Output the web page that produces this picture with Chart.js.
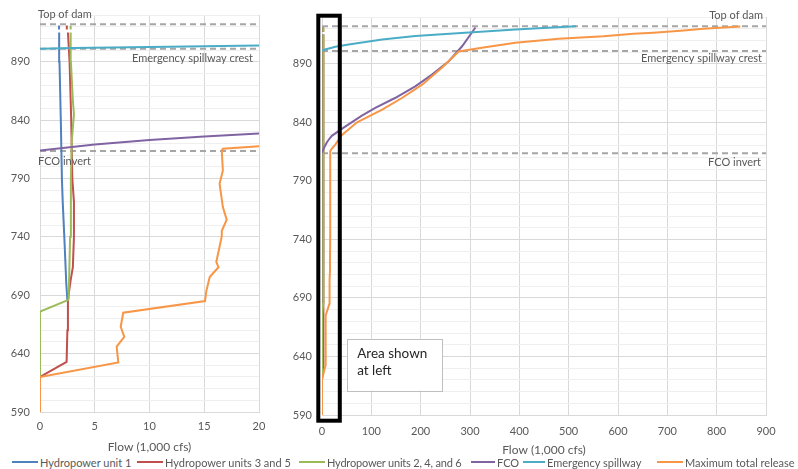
<!DOCTYPE html>
<html>
<head>
<meta charset="utf-8">
<script src="https://cdn.jsdelivr.net/npm/chart.js@4.4.1/dist/chart.umd.min.js"></script>
<style>
html,body{margin:0;padding:0;background:#fff;}
body{width:798px;height:469px;position:relative;overflow:hidden;font-family:Lato,"Open Sans",sans-serif;}
#cL{position:absolute;left:0;top:0;}
#cR{position:absolute;left:270px;top:0;}
.lg{position:absolute;top:455px;height:14px;display:flex;align-items:center;font-size:11px;color:#595959;white-space:nowrap;}
.lg i{display:inline-block;height:2px;margin-right:2px;}
</style>
</head>
<body>
<canvas id="cL" width="268" height="455"></canvas>
<canvas id="cR" width="528" height="458"></canvas>
<div id="legend"></div>
<script>
// ---- Data (flow in 1,000 cfs vs. reservoir elevation) ----
const unit1Flow = [2.5, 2.4, 2.22, 2.07, 2.0, 1.9, 1.78, 1.75, null, 1.74, 1.74];
const unit1Elev = [686, 700, 740, 771, 790, 840, 890, 915, null, 917.5, 921];

const units35Flow = [0, 2.43, 2.5, 2.55, 2.8, 3.0, 3.1, 3.1, 2.95, 2.85, 2.7, 2.55, null, 2.45, 2.45];
const units35Elev = [620, 633, 660, 686, 703, 714, 740, 770, 790, 840, 890, 915, null, 917.5, 921];

const units246Flow = [0, 0, 2.6, 2.65, 2.75, 2.82, 2.9, 3.1, 3.0, 2.82, 2.8, null, 2.8, 2.8];
const units246Elev = [620, 676, 686, 700, 740, 790, 822, 845, 857, 890, 915, null, 917.5, 921];

const fcoFlow = [0, 5, 10, 15, 20, 37, 60, 80, 108, 148, 189, 223, 257, 284, 311];
const fcoElev = [814, 819, 823, 826, 828.5, 833.6, 840, 845.5, 852.3, 860.8, 870.8, 880.8, 892.2, 905, 921];

const spillFlow = [0, 3, 10, 20, 27, 54, 122, 189, 290, 392, 515];
const spillElev = [901, 901.8, 902.6, 903.8, 904.6, 906.6, 910.8, 913.7, 916.6, 919.4, 922];

const maxFlow = [0, 0, 7.15, 7.0, 7.7, 7.37, 7.6, 15.07, 15.2, 15.5, 16.3, 16.1, 16.6, 16.6, 17.05, 16.7, 16.4, 16.7, 16.6, 16.7, 20, 27, 40, 71, 122, 162, 203, 243, 277, 324, 392, 480, 571, 631, 672, 733, 773, 848];
const maxElev = [590, 620, 632.5, 646, 654.4, 663, 675, 685, 694, 705.6, 714, 718.5, 740.4, 745, 754.7, 765.5, 785.5, 796.8, 814, 815.4, 817.5, 821, 829, 840, 850.8, 860.8, 872.2, 886.6, 900.5, 903.7, 908, 911.5, 913.6, 915.7, 916.6, 918.5, 920, 921.8];

// Reference elevations
const topOfDam = 922;
const spillwayCrest = 901;
const fcoInvert = 813.5;

// Ticks
const elevGrid = [590,600,610,620,630,640,650,660,670,680,690,700,710,720,730,740,750,760,770,780,790,800,810,820,830,840,850,860,870,880,890,900,910,920,930];
const elevLabels = [590, 640, 690, 740, 790, 840, 890];
const leftFlowTicks = [0, 5, 10, 15, 20];
const rightFlowTicks = [0, 100, 200, 300, 400, 500, 600, 700, 800, 900];

const seriesNames = ['Hydropower unit 1', 'Hydropower units 3 and 5', 'Hydropower units 2, 4, and 6', 'FCO', 'Emergency spillway', 'Maximum total release'];
const seriesColors = ['#4F81BD', '#C0504D', '#9BBB59', '#8064A2', '#4BACC6', '#F79646'];
const seriesFlows = [unit1Flow, units35Flow, units246Flow, fcoFlow, spillFlow, maxFlow];
const seriesElevs = [unit1Elev, units35Elev, units246Elev, fcoElev, spillElev, maxElev];

const FONT = 'Lato, "Open Sans", sans-serif';
const TXT = '#595959';

function pts(xs, ys) {
  return xs.map((x, i) => (ys[i] === null ? {x: null, y: null} : {x: x, y: ys[i]}));
}

function buildDatasets(xMin, xMax) {
  const ds = seriesNames.map((name, i) => ({
    label: name,
    data: pts(seriesFlows[i], seriesElevs[i]),
    borderColor: seriesColors[i],
    backgroundColor: seriesColors[i],
    borderWidth: 2,
    pointRadius: 0,
    fill: false,
    spanGaps: false,
    order: 10 - i
  }));
  [topOfDam, spillwayCrest, fcoInvert].forEach(v => {
    ds.push({
      label: 'ref',
      data: [{x: xMin, y: v}, {x: xMax, y: v}],
      borderColor: '#A6A6A6',
      borderWidth: 2,
      borderDash: [6, 4],
      pointRadius: 0,
      fill: false,
      order: 20
    });
  });
  return ds;
}

function buildScales(xMin, xMax, xTicks, yWidth, xHeight, xTickPad, titlePadBottom) {
  return {
    x: {
      type: 'linear', min: xMin, max: xMax,
      afterBuildTicks: s => { s.ticks = xTicks.map(v => ({value: v})); },
      afterFit: s => { s.height = xHeight; s.paddingLeft = 0; s.paddingRight = 0; },
      grid: {color: '#D9D9D9', lineWidth: 1, drawTicks: false},
      border: {display: true, color: '#D9D9D9'},
      ticks: {color: TXT, font: {family: FONT, size: 11}, padding: xTickPad, maxRotation: 0, autoSkip: false},
      title: {display: true, text: 'Flow (1,000 cfs)', color: TXT, font: {family: FONT, size: 12}, padding: {top: 0, bottom: titlePadBottom}}
    },
    y: {
      type: 'linear', min: 590, max: 930,
      afterBuildTicks: s => { s.ticks = elevGrid.map(v => ({value: v})); },
      afterFit: s => { s.width = yWidth; s.paddingTop = 0; s.paddingBottom = 0; },
      grid: {
        drawTicks: false,
        color: c => (c.tick && elevLabels.includes(c.tick.value)) ? '#D9D9D9' : '#EFEFEF',
        lineWidth: 1
      },
      border: {display: true, color: '#D9D9D9'},
      ticks: {
        color: TXT, font: {family: FONT, size: 11}, padding: 10, autoSkip: false,
        callback: v => elevLabels.includes(v) ? String(v) : ''
      }
    }
  };
}

const annotPlugin = {
  id: 'annot',
  afterDatasetsDraw(chart, args, opts) {
    const ctx = chart.ctx;
    const ys = chart.scales.y, xs = chart.scales.x, ca = chart.chartArea;
    ctx.save();
    ctx.font = '11px ' + FONT;
    ctx.fillStyle = TXT;
    ctx.textBaseline = 'middle';
    (opts.labels || []).forEach(l => {
      const py = ys.getPixelForValue(l.value) + l.dy;
      if (l.side === 'left') {
        ctx.textAlign = 'left';
        ctx.fillText(l.text, ca.left + l.dx, py);
      } else {
        ctx.textAlign = 'right';
        ctx.fillText(l.text, ca.right - l.dx, py);
      }
    });
    if (opts.zoomBox) {
      const x0 = xs.getPixelForValue(0);
      ctx.strokeStyle = '#000';
      ctx.lineWidth = 4;
      ctx.strokeRect(x0 - 3.7, ca.top - 1.3, 21.5, ca.bottom - ca.top + 7);
      // "Area shown at left" box
      const bx = xs.getPixelForValue(51), bx2 = xs.getPixelForValue(244);
      const by = ys.getPixelForValue(655), by2 = ys.getPixelForValue(611);
      ctx.fillStyle = '#fff';
      ctx.fillRect(bx, by, bx2 - bx, by2 - by);
      ctx.strokeStyle = '#BFBFBF';
      ctx.lineWidth = 1;
      ctx.strokeRect(Math.round(bx) + 0.5, Math.round(by) + 0.5, Math.round(bx2 - bx), Math.round(by2 - by));
      ctx.fillStyle = '#262626';
      ctx.font = '13.5px ' + FONT;
      ctx.textAlign = 'left';
      ctx.fillText('Area shown', bx + 10, by + 15);
      ctx.fillText('at left', bx + 10, by + 32);
    }
    ctx.restore();
  }
};

const common = {
  responsive: false,
  animation: false,
  devicePixelRatio: 1,
  events: [],
  plugins: {legend: {display: false}, tooltip: {enabled: false}}
};

new Chart(document.getElementById('cL'), {
  type: 'line',
  data: {datasets: buildDatasets(0, 20)},
  plugins: [annotPlugin],
  options: Object.assign({}, common, {
    layout: {padding: {top: 15, right: 9, left: 0, bottom: 0}},
    scales: buildScales(0, 20, leftFlowTicks, 40, 43, 8, 1),
    plugins: Object.assign({}, common.plugins, {
      annot: {
        labels: [
          {text: 'Top of dam', value: topOfDam, side: 'left', dx: -2, dy: -10},
          {text: 'Emergency spillway crest', value: spillwayCrest, side: 'right', dx: 6, dy: 10},
          {text: 'FCO invert', value: fcoInvert, side: 'left', dx: -2, dy: 10}
        ]
      }
    })
  })
});

new Chart(document.getElementById('cR'), {
  type: 'line',
  data: {datasets: buildDatasets(0, 900)},
  plugins: [annotPlugin],
  options: Object.assign({}, common, {
    layout: {padding: {top: 17, right: 32, left: 0, bottom: 0}},
    scales: buildScales(0, 900, rightFlowTicks, 52, 43, 10, 1),
    plugins: Object.assign({}, common.plugins, {
      annot: {
        zoomBox: true,
        labels: [
          {text: 'Top of dam', value: topOfDam, side: 'right', dx: 3, dy: -11},
          {text: 'Emergency spillway crest', value: spillwayCrest, side: 'right', dx: 4, dy: 8},
          {text: 'FCO invert', value: fcoInvert, side: 'right', dx: 5, dy: 9}
        ]
      }
    })
  })
});

// HTML legend
const legendLefts = [12, 137, 299, 471, 523, 657];
const legendLineW = [26, 26, 26, 24, 22, 26];
const lg = document.getElementById('legend');
seriesNames.forEach((n, i) => {
  const d = document.createElement('div');
  d.className = 'lg';
  d.style.left = legendLefts[i] + 'px';
  if (i === 2) d.style.letterSpacing = '-0.2px';
  const sw = document.createElement('i');
  sw.style.background = seriesColors[i];
  sw.style.width = legendLineW[i] + 'px';
  d.appendChild(sw);
  d.appendChild(document.createTextNode(n));
  lg.appendChild(d);
});
</script>
</body>
</html>
